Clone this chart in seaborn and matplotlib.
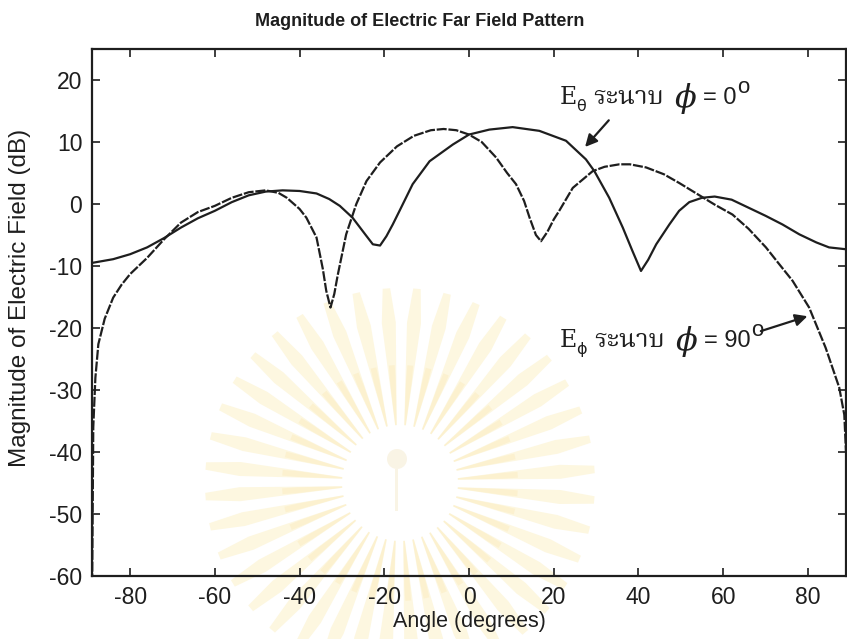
import matplotlib
matplotlib.use("Agg")
import numpy as np
import pandas as pd
import seaborn as sns
import matplotlib.pyplot as plt
from matplotlib import font_manager
from matplotlib.patches import Polygon, Circle, Rectangle
from matplotlib.transforms import IdentityTransform

# E-theta pattern in the phi = 0 plane (dB)
theta_angle = [-89, -84, -80, -76, -72, -68, -64, -60, -56, -52, -48, -44, -40,
               -36, -33, -30.5, -27.5, -24.5, -22.7, -21, -19.5, -18, -16.4,
               -13.3, -9.3, -3.8, 0, 4.8, 10.3, 16.6, 22.9, 27.6, 29.6, 33.1,
               36.3, 38.6, 40.6, 42.3, 44.2, 47.3, 49.6, 52, 55, 58, 62, 66,
               70, 74, 78, 82, 85, 89]
theta_db = [-9.5, -8.9, -8.1, -7.0, -5.5, -3.8, -2.3, -1.1, 0.3, 1.4, 2.0, 2.2,
            2.1, 1.7, 0.8, -0.3, -2.2, -4.9, -6.5, -6.7, -5.2, -3.3, -1.1,
            3.2, 6.9, 9.6, 11.2, 12.0, 12.4, 11.8, 10.2, 7.2, 5.3, 1.0, -3.8,
            -7.6, -10.8, -9.0, -6.5, -3.3, -1.1, 0.3, 1.0, 1.2, 0.7, -0.6,
            -1.9, -3.3, -4.9, -6.2, -7.0, -7.3]

# E-phi pattern in the phi = 90 plane (dB)
phi_angle = [-89, -88.7, -88.2, -87.5, -86, -84, -82, -80, -76, -72, -68, -64,
             -60, -56, -52, -48, -45, -43, -40, -38.4, -36, -34.5, -33.7,
             -32.7, -31.8, -31, -29, -26.6, -24.2, -21, -17, -13, -9, -6, -3,
             0, 3, 6.4, 9, 11.1, 13, 14.3, 15.8, 17, 18.5, 20, 21.3, 24.5,
             29.2, 32, 35.5, 38, 41.8, 46, 49.6, 54.4, 58, 62.2, 66, 70.1, 73,
             76.4, 80.3, 84.2, 87.4, 88.6, 89]
phi_db = [-65, -36, -28, -22.6, -18.5, -15.1, -13.0, -11.3, -8.7, -5.7, -3.0,
          -1.3, -0.3, 1.0, 1.9, 2.2, 1.8, 1.0, -0.8, -2.2, -5.4, -10.5, -14.0,
          -16.7, -14.5, -11.5, -4.9, 0.0, 3.7, 6.7, 9.3, 11.0, 11.9, 12.1,
          11.9, 11.2, 10.0, 7.5, 5.0, 3.2, 0.5, -2.2, -5.0, -6.0, -4.5, -2.5,
          -1.1, 2.6, 5.3, 6.0, 6.4, 6.4, 5.9, 4.8, 3.4, 1.4, -0.1, -1.7, -4.0,
          -7.0, -9.5, -12.4, -16.7, -23.2, -29.6, -34.0, -40.0]

x_ticks = [-80, -60, -40, -20, 0, 20, 40, 60, 80]
y_ticks = [-60, -50, -40, -30, -20, -10, 0, 10, 20]

sns.set_theme(style="ticks")
plt.rcParams["font.family"] = ["Liberation Sans", "DejaVu Sans"]
plt.rcParams["axes.unicode_minus"] = False

available = {f.name for f in font_manager.fontManager.ttflist}
thai_font = next((n for n in ["Noto Serif Thai", "Taviraj", "Trirong", "Sarabun",
                              "Noto Sans Thai Looped", "Noto Sans Thai", "Athiti"]
                  if n in available), "DejaVu Sans")

INK = "#1e1e1e"
W, H = 847, 639
fig = plt.figure(figsize=(W / 100, H / 100), dpi=100)

# faint sunburst emblem behind the plot
bg = fig.add_axes([0, 0, 1, 1], zorder=0)
bg.set_xlim(0, W)
bg.set_ylim(H, 0)
bg.axis("off")
cx, cy = 400, 483


def petal(a_deg, r0, r1, w0, wm, w1):
    a = np.deg2rad(a_deg)
    rm = r0 + 0.75 * (r1 - r0)
    pts = []
    for r, w in [(r0, -w0), (rm, -wm), (r1, -w1), (r1, w1), (rm, wm), (r0, w0)]:
        b = a + np.deg2rad(w)
        pts.append((cx + r * np.cos(b), cy - r * np.sin(b)))
    return pts


for k in range(40):
    ang = k * 9 + 4
    bg.add_patch(Polygon(petal(ang, 58, 195, 0.8, 2.5, 1.1), closed=True,
                         facecolor=(0.99, 0.95, 0.80), edgecolor="none", alpha=0.6))
    bg.add_patch(Polygon(petal(ang, 58, 118, 0.7, 1.6, 1.4), closed=True,
                         facecolor=(0.98, 0.88, 0.62), edgecolor="none", alpha=0.25))
bg.add_patch(Circle((cx - 3, cy - 24), 10, facecolor=(0.97, 0.94, 0.86),
                    edgecolor="none", alpha=0.7))
bg.add_patch(Rectangle((cx - 5, cy - 14), 3, 42, facecolor=(0.97, 0.94, 0.86),
                       edgecolor="none", alpha=0.7))

ax = fig.add_axes([92 / W, 1 - 576 / H, (846 - 92) / W, (576 - 49) / H], zorder=1)
ax.patch.set_alpha(0)

df = pd.concat([
    pd.DataFrame({"angle": theta_angle, "db": theta_db, "pattern": "theta"}),
    pd.DataFrame({"angle": phi_angle, "db": phi_db, "pattern": "phi"}),
])
sns.lineplot(data=df, x="angle", y="db", hue="pattern", style="pattern",
             palette={"theta": INK, "phi": INK},
             dashes={"theta": "", "phi": (4.5, 0.8)}, linewidth=1.6,
             legend=False, ax=ax, estimator=None, sort=False)

ax.set_xlim(-89, 89)
ax.set_ylim(-60, 25)
ax.set_xticks(x_ticks)
ax.set_yticks(y_ticks)
ax.tick_params(direction="in", top=True, right=True, length=6, width=1.2,
               labelsize=16.5, colors=INK, pad=7)
for sp in ax.spines.values():
    sp.set_linewidth(1.6)
    sp.set_color(INK)
ax.set_xlabel("Angle (degrees)", fontsize=15.5, color=INK)
ax.xaxis.set_label_coords(0.5, -0.066)
ax.set_ylabel("Magnitude of Electric Field (dB)", fontsize=17.5, color=INK)
ax.yaxis.set_label_coords(-0.081, 0.527)
fig.text(420 / W, 1 - 22 / H, "Magnitude of Electric Far Field Pattern",
         ha="center", va="center", fontsize=13, fontweight="bold", color=INK)

renderer = fig.canvas.get_renderer()


def write_run(x, y, pieces):
    px, py = ax.transData.transform((x, y))
    for s, dx, dy, kw in pieces:
        t = fig.text(px + dx, py + dy, s, transform=IdentityTransform(),
                     ha="left", va="baseline", color=INK, zorder=5, **kw)
        px = t.get_window_extent(renderer).x1


def label(sub, value, x, y):
    write_run(x, y, [
        ("E", 0, 0, dict(family="DejaVu Serif", size=17)),
        (sub, 0, -7, dict(family="DejaVu Sans", size=11.5)),
        ("ระนาบ", 7, 0, dict(family=thai_font, size=18.5)),
        ("ϕ", 11, -3, dict(family="DejaVu Serif", style="italic", size=23)),
        ("= " + value, 6, 0, dict(family="Liberation Sans", size=17)),
        ("o", 1, 11, dict(family="Liberation Sans", size=16)),
    ])


label("θ", "0", 21.3, 16.1)
label("ϕ", "90", 21.3, -23.0)

arrow = dict(arrowstyle="-|>", mutation_scale=18, lw=1.6, color=INK,
             shrinkA=0, shrinkB=0)
ax.annotate("", xy=(27.4, 9.2), xytext=(33.0, 13.5), arrowprops=arrow)
ax.annotate("", xy=(79.9, -18.1), xytext=(68.9, -20.5), arrowprops=arrow)

fig.savefig("out.png", dpi=100)
